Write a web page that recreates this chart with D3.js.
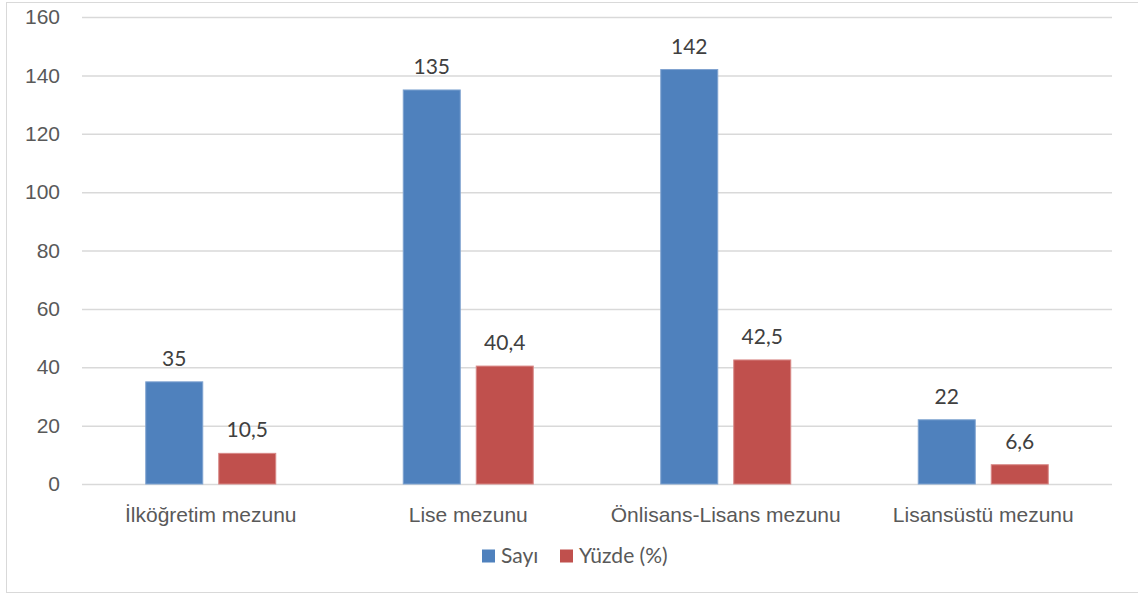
<!DOCTYPE html>
<html>
<head>
<meta charset="utf-8">
<script src="https://cdn.jsdelivr.net/npm/d3@7"></script>
<style>
  body { margin: 0; background: #fff; }
  svg { font-family: Lato, "Open Sans", sans-serif; }
</style>
</head>
<body>
<div id="vis"></div>
<script>
// chart data
const CATEGORIES = ["İlköğretim mezunu", "Lise mezunu", "Önlisans-Lisans mezunu", "Lisansüstü mezunu"];
const SERIES = ["Sayı", "Yüzde (%)"];
const SAYI = [35, 135, 142, 22];
const YUZDE = [10.5, 40.4, 42.5, 6.6];
const Y_TICKS = [0, 20, 40, 60, 80, 100, 120, 140, 160];

const FRAME_WIDTH = 1138;
const FRAME_HEIGHT = 594;
const MARGINS = {left: 82, right: 26, top: 17, bottom: 110};
const VIS_WIDTH = FRAME_WIDTH - MARGINS.left - MARGINS.right;
const VIS_HEIGHT = FRAME_HEIGHT - MARGINS.top - MARGINS.bottom;
const COLORS = ["#4F81BD", "#C0504D"];
const STROKES = ["#7FA3D0", "#D88886"];
const FONT = "21px";

const FRAME = d3.select("#vis")
    .append("svg")
    .attr("width", FRAME_WIDTH)
    .attr("height", FRAME_HEIGHT);

// chart border
FRAME.append("rect")
    .attr("x", 6.5).attr("y", 2.5)
    .attr("width", 1200).attr("height", 590)
    .attr("fill", "none")
    .attr("stroke", "#D9D9D9")
    .attr("stroke-width", 1);

const X_SCALE = d3.scaleBand()
    .domain(CATEGORIES)
    .range([0, VIS_WIDTH]);
const Y_SCALE = d3.scaleLinear()
    .domain([0, 160])
    .range([VIS_HEIGHT, 0]);

const G = FRAME.append("g")
    .attr("transform", "translate(" + MARGINS.left + "," + MARGINS.top + ")");

// gridlines
G.append("g")
    .call(d3.axisLeft(Y_SCALE).tickValues(Y_TICKS).tickSize(-VIS_WIDTH).tickFormat(""))
    .call(g => g.select(".domain").remove())
    .call(g => g.selectAll("line").attr("stroke", "#D9D9D9").attr("stroke-width", 1.5));

// y labels
G.append("g")
    .call(d3.axisLeft(Y_SCALE).tickValues(Y_TICKS).tickSize(0).tickPadding(22))
    .call(g => g.select(".domain").remove())
    .call(g => g.selectAll("text").attr("fill", "#595959").attr("font-size", FONT));

// x labels
G.append("g")
    .attr("transform", "translate(0," + VIS_HEIGHT + ")")
    .call(d3.axisBottom(X_SCALE).tickSize(0).tickPadding(23))
    .call(g => g.select(".domain").remove())
    .call(g => g.selectAll("text").attr("fill", "#595959").attr("font-size", FONT));

const BAR_W = 57;
const GAP = 16;
const DATA = [];
CATEGORIES.forEach((c, i) => {
    DATA.push({cat: c, s: 0, v: SAYI[i]});
    DATA.push({cat: c, s: 1, v: YUZDE[i]});
});
const barX = (d) => X_SCALE(d.cat) + X_SCALE.bandwidth() / 2 - BAR_W - GAP / 2 + d.s * (BAR_W + GAP);

G.selectAll(".bar")
    .data(DATA)
    .enter()
    .append("rect")
    .attr("class", "bar")
    .attr("x", barX)
    .attr("y", (d) => Y_SCALE(d.v))
    .attr("width", BAR_W)
    .attr("height", (d) => VIS_HEIGHT - Y_SCALE(d.v))
    .attr("fill", (d) => COLORS[d.s])
    .attr("stroke", (d) => STROKES[d.s])
    .attr("stroke-width", 1);

G.selectAll(".lbl")
    .data(DATA)
    .enter()
    .append("text")
    .attr("class", "lbl")
    .attr("x", (d) => barX(d) + BAR_W / 2)
    .attr("y", (d) => Y_SCALE(d.v) - 16)
    .attr("text-anchor", "middle")
    .attr("fill", "#404040")
    .attr("font-size", FONT)
    .text((d) => String(d.v).replace(".", ","));

// legend
const LEG = FRAME.append("g").attr("transform", "translate(482,556)");
const LEG_X = [0, 78];
SERIES.forEach((s, i) => {
    LEG.append("rect")
        .attr("x", LEG_X[i]).attr("y", -6.5)
        .attr("width", 13).attr("height", 13)
        .attr("fill", COLORS[i]);
    LEG.append("text")
        .attr("x", LEG_X[i] + 19).attr("y", 0)
        .attr("dy", "0.35em")
        .attr("fill", "#595959")
        .attr("font-size", FONT)
        .text(s);
});
</script>
</body>
</html>
